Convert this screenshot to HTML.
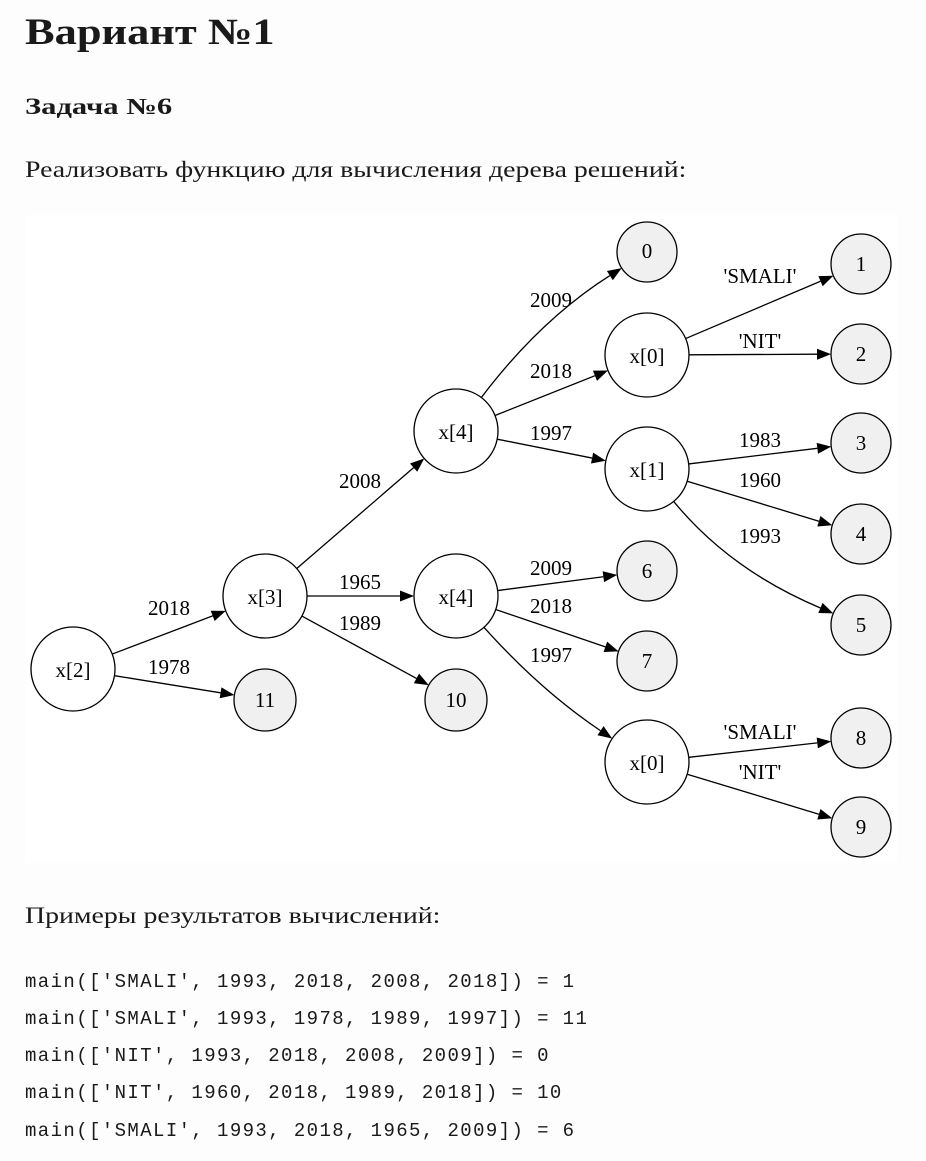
<!DOCTYPE html>
<html><head><meta charset="utf-8"><style>
body{margin:0;background:#fdfdfd;width:926px;height:1161px;position:relative;overflow:hidden;font-family:"Liberation Serif","DejaVu Serif",serif;color:#1a1a1a}
.t{position:absolute;left:25px;white-space:nowrap;transform-origin:0 0}
h1{position:absolute;left:25px;top:11px;margin:0;font-size:37px;font-weight:bold;transform:scaleX(1.2);transform-origin:0 0;white-space:nowrap}
.c{position:absolute;left:25px;font-family:"Liberation Mono",monospace;font-size:19px;letter-spacing:1.4px;white-space:pre}
svg{position:absolute;left:25px;top:215px}
svg text{font-family:"Liberation Serif",serif;font-size:21px;fill:#000}
</style></head><body>
<h1>Вариант №1</h1>
<div class="t" style="top:94px;font-size:23px;font-weight:bold;transform:scaleX(1.33)">Задача №6</div>
<div class="t" style="top:157px;font-size:23px;transform:scaleX(1.21)">Реализовать функцию для вычисления дерева решений:</div>
<svg id="g" width="872" height="648" viewBox="25 215 872 648">
<rect x="25" y="215" width="872" height="648" fill="#fff"/>
<g id="edges" stroke="#000" stroke-width="1.3" fill="none"></g>
<g id="arr" fill="#000"></g>
<g id="nodes" stroke="#000" stroke-width="1.3"></g>
<g text-anchor="middle">
<text x="73" y="677">x[2]</text><text x="265" y="604">x[3]</text><text x="265" y="707">11</text>
<text x="456" y="439">x[4]</text><text x="456" y="604">x[4]</text><text x="456" y="707">10</text>
<text x="647" y="258">0</text><text x="647" y="363">x[0]</text><text x="647" y="477">x[1]</text>
<text x="647" y="578">6</text><text x="647" y="668">7</text><text x="647" y="770">x[0]</text>
<text x="861" y="271">1</text><text x="861" y="361">2</text><text x="861" y="450">3</text>
<text x="861" y="541">4</text><text x="861" y="632">5</text><text x="861" y="745">8</text><text x="861" y="834">9</text>
<text x="169" y="615">2018</text><text x="169" y="674">1978</text>
<text x="360" y="488">2008</text><text x="360" y="589">1965</text><text x="360" y="630">1989</text>
<text x="551" y="307">2009</text><text x="551" y="378">2018</text><text x="551" y="440">1997</text>
<text x="551" y="575">2009</text><text x="551" y="613">2018</text><text x="551" y="662">1997</text>
<text x="760" y="283">'SMALI'</text><text x="760" y="348">'NIT'</text>
<text x="760" y="447">1983</text><text x="760" y="487">1960</text><text x="760" y="543">1993</text>
<text x="760" y="739">'SMALI'</text><text x="760" y="779">'NIT'</text>
</g>
</svg>
<div class="t" style="top:903px;font-size:23px;transform:scaleX(1.21)">Примеры результатов вычислений:</div>
<div class="c" style="top:971px">main(['SMALI', 1993, 2018, 2008, 2018]) = 1</div>
<div class="c" style="top:1008px">main(['SMALI', 1993, 1978, 1989, 1997]) = 11</div>
<div class="c" style="top:1045px">main(['NIT', 1993, 2018, 2008, 2009]) = 0</div>
<div class="c" style="top:1082px">main(['NIT', 1960, 2018, 1989, 2018]) = 10</div>
<div class="c" style="top:1120px">main(['SMALI', 1993, 2018, 1965, 2009]) = 6</div>
<script>
var N={a:[73,669,42,0],b:[265,596,42,0],n11:[265,700,31,1],c:[456,431,42,0],d:[456,596,42,0],n10:[456,700,31,1],
n0:[647,252,30,1],e:[647,355,42,0],f:[647,469,42,0],n6:[647,571,30,1],n7:[647,661,30,1],g:[647,762,42,0],
n1:[861,264,30,1],n2:[861,354,30,1],n3:[861,443,30,1],n4:[861,534,30,1],n5:[861,625,30,1],n8:[861,738,30,1],n9:[861,827,30,1]};
var E=[["a","b"],["a","n11"],["b","c"],["b","d"],["b","n10"],["c","n0",[540,320]],["c","e"],["c","f"],
["d","n6"],["d","n7"],["d","g",[540,690]],["e","n1"],["e","n2"],["f","n3"],["f","n4"],["f","n5",[730,570]],["g","n8"],["g","n9"]];
var ns="http://www.w3.org/2000/svg";
function el(p,t,a){var e=document.createElementNS(ns,t);for(var k in a)e.setAttribute(k,a[k]);document.getElementById(p).appendChild(e);}
for(var k in N){var n=N[k];el("nodes","circle",{cx:n[0],cy:n[1],r:n[2],fill:n[3]?"#f0f0f0":"#fff"});}
E.forEach(function(e){var s=N[e[0]],t=N[e[1]],c=e[2];
var cx=c?c[0]:s[0],cy=c?c[1]:s[1];var sx=c?c[0]:t[0],sy=c?c[1]:t[1];
var dx=sx-s[0],dy=sy-s[1],L=Math.hypot(dx,dy);var x0=s[0]+dx/L*s[2],y0=s[1]+dy/L*s[2];
var ux=t[0]-cx,uy=t[1]-cy,M=Math.hypot(ux,uy);ux/=M;uy/=M;
var tx=t[0]-ux*t[2],ty=t[1]-uy*t[2];var bx=tx-ux*14,by=ty-uy*14;
el("edges","path",{d:c?"M"+x0+","+y0+"Q"+c[0]+","+c[1]+" "+bx+","+by:"M"+x0+","+y0+"L"+bx+","+by});
el("arr","polygon",{points:tx+","+ty+" "+(bx-uy*5.5)+","+(by+ux*5.5)+" "+(bx+uy*5.5)+","+(by-ux*5.5)});});
</script>
</body></html>
